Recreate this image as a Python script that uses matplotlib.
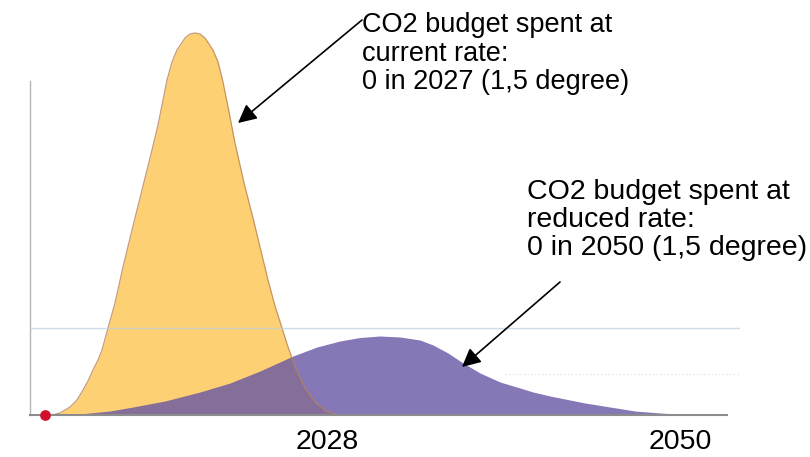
import numpy as np
import matplotlib.pyplot as plt

# values: x = position along the time axis, y = rate
# (both in picture units, origin at the lower left corner of the axes)
orange_x = [22, 30, 40, 47, 53, 58, 63, 68, 72, 78, 85, 93, 102, 112, 122, 128,
            137, 142, 147, 155, 160, 165, 170, 175, 183, 188, 193, 199, 205, 214,
            223, 231, 238, 245, 252, 258, 266, 275, 285, 296, 308]
orange_y = [0, 2, 8, 15, 25, 34, 45, 55, 65, 87, 112, 148, 185, 225, 265, 290,
            335, 353, 365, 377, 381, 382, 381, 377, 365, 353, 333, 303, 272, 232,
            197, 164, 135, 109, 87, 68, 46, 27, 13, 4, 0]

purple_x = [20, 50, 80, 103, 135, 170, 200, 230, 263, 287, 310, 330, 350, 370, 390,
            403, 418, 433, 450, 470, 490, 503, 520, 530, 555, 580, 605, 630, 660, 680]
purple_y = [0, 1, 4, 8, 14, 23, 32, 44, 59, 68, 74, 77.5, 79, 78, 75, 70, 62, 52,
            42, 33, 27, 23, 19, 17, 12, 8, 4, 2, 0, 0]

hline_y = 87
tick_pos = [297, 650]
tick_labels = ['2028', '2050']

label_current = 'CO2 budget spent at\ncurrent rate:\n0 in 2027 (1,5 degree)'
label_reduced = 'CO2 budget spent at\nreduced rate:\n0 in 2050 (1,5 degree)'

plt.rcParams['font.family'] = ['Liberation Sans', 'DejaVu Sans']

fig = plt.figure(figsize=(8.1, 4.57), dpi=100)
ax = fig.add_axes([30/810, 42/457, 710/810, 415/457])
ax.set_xlim(0, 710)
ax.set_ylim(0, 415)

ax.fill_between(orange_x, orange_y, 0, color='#fdd073', lw=0, zorder=2)
ax.fill_between(purple_x, purple_y, 0, color='#6856a4', alpha=0.8, lw=0, zorder=3)
ax.plot(orange_x, orange_y, color='#b8845a', lw=0.9, alpha=0.8, zorder=4)
ax.axhline(hline_y, color='#b9d0dc', lw=1, alpha=0.7, zorder=5)
ax.plot([475, 715], [41, 41], color='#e6e6e6', lw=1, ls=':', zorder=1)

ax.scatter([15], [0], s=45, color='#d0102a', zorder=10, clip_on=False)

for s in ['top', 'right']:
    ax.spines[s].set_visible(False)
ax.spines['left'].set_color('#b5b5b5')
ax.spines['left'].set_linewidth(1)
ax.spines['left'].set_bounds(0, 334)
ax.spines['bottom'].set_color('#8c8c8c')
ax.spines['bottom'].set_linewidth(1.5)
ax.spines['bottom'].set_bounds(0, 697)
ax.spines['bottom'].set_zorder(6)
ax.set_yticks([])
ax.set_xticks(tick_pos)
ax.set_xticklabels(tick_labels, fontsize=20.5)
ax.tick_params(axis='x', length=0, pad=10)

arrow = dict(arrowstyle='-|>', color='black', lw=1.2, mutation_scale=28,
             shrinkA=0, shrinkB=0)
ax.annotate('', xy=(208, 292), xytext=(332, 395), arrowprops=arrow,
            annotation_clip=False, zorder=8)
ax.annotate('', xy=(432, 48), xytext=(530, 133), arrowprops=arrow,
            annotation_clip=False, zorder=8)

ax.text(332, 403, label_current, fontsize=19.5, va='top', ha='left',
        linespacing=1.13, clip_on=False)
ax.text(497, 236, label_reduced, fontsize=20.5, va='top', ha='left',
        linespacing=1.11, clip_on=False)

fig.savefig('out.png', dpi=100)
